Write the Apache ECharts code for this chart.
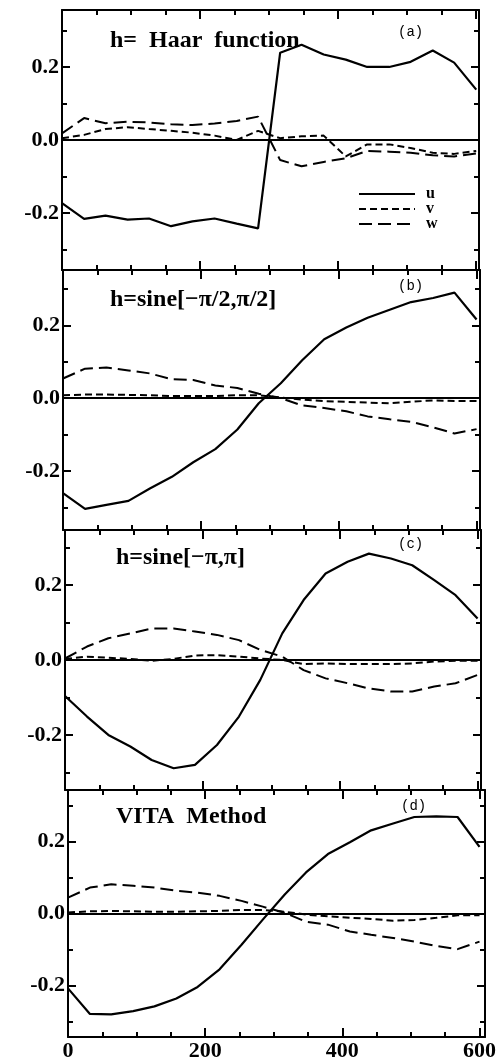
<!DOCTYPE html>
<html>
<head>
<meta charset="utf-8">
<script src="https://cdn.jsdelivr.net/npm/echarts@6/dist/echarts.min.js"></script>
<style>html,body{margin:0;padding:0;background:#fff;}#c{width:501px;height:1064px;}</style>
</head>
<body>
<div id="c"></div>
<script>
// x positions (shared by all panels)
const xs = [0,32,63,95,126,158,189,221,253,284,316,347,379,411,442,474,505,537,568,600];

// Panel (a) h = Haar function
const uA = [-0.173,-0.216,-0.207,-0.218,-0.215,-0.236,-0.223,-0.215,-0.229,-0.242,0.239,0.261,0.234,0.220,0.200,0.200,0.214,0.245,0.212,0.138];
const vA = [0.005,0.014,0.030,0.035,0.030,0.025,0.020,0.012,0.000,0.025,0.005,0.010,0.012,-0.045,-0.012,-0.012,-0.022,-0.035,-0.038,-0.030];
const wA = [0.018,0.060,0.046,0.050,0.048,0.043,0.041,0.045,0.052,0.064,-0.055,-0.072,-0.060,-0.050,-0.030,-0.032,-0.035,-0.042,-0.045,-0.037];

// Panel (b) h = sine[-pi/2, pi/2]
const uB = [-0.261,-0.304,-0.293,-0.282,-0.248,-0.216,-0.176,-0.140,-0.086,-0.014,0.041,0.104,0.162,0.194,0.221,0.243,0.264,0.275,0.290,0.216];
const vB = [0.008,0.010,0.010,0.009,0.008,0.006,0.006,0.006,0.008,0.008,0.002,-0.004,-0.008,-0.010,-0.012,-0.014,-0.010,-0.006,-0.008,-0.008];
const wB = [0.054,0.081,0.084,0.076,0.068,0.052,0.050,0.035,0.028,0.012,0.000,-0.020,-0.027,-0.036,-0.050,-0.058,-0.065,-0.080,-0.097,-0.085];

// Panel (c) h = sine[-pi, pi]
const uC = [-0.096,-0.151,-0.200,-0.231,-0.267,-0.289,-0.280,-0.227,-0.151,-0.053,0.071,0.160,0.231,0.262,0.284,0.271,0.253,0.213,0.173,0.111];
const vC = [0.003,0.009,0.006,0.003,-0.002,0.003,0.012,0.013,0.009,0.004,0.000,-0.011,-0.009,-0.011,-0.011,-0.011,-0.009,-0.004,-0.002,-0.002];
const wC = [0.004,0.036,0.058,0.071,0.084,0.084,0.076,0.067,0.053,0.027,0.009,-0.027,-0.049,-0.062,-0.076,-0.084,-0.084,-0.071,-0.062,-0.040];

// Panel (d) VITA Method
const uD = [-0.208,-0.279,-0.280,-0.271,-0.258,-0.236,-0.204,-0.155,-0.087,-0.017,0.053,0.114,0.165,0.198,0.231,0.250,0.268,0.270,0.268,0.185];
const vD = [0.003,0.006,0.007,0.006,0.005,0.005,0.006,0.007,0.010,0.010,0.005,-0.003,-0.008,-0.012,-0.015,-0.020,-0.018,-0.012,-0.005,-0.005];
const wD = [0.044,0.072,0.081,0.077,0.072,0.063,0.058,0.049,0.035,0.019,0.002,-0.023,-0.031,-0.050,-0.059,-0.068,-0.078,-0.090,-0.099,-0.078];

const titles = ['h=  Haar  function', 'h=sine[\u2212\u03c0/2,\u03c0/2]', 'h=sine[\u2212\u03c0,\u03c0]', 'VITA  Method'];
const tags = ['(a)', '(b)', '(c)', '(d)'];
const seriesNames = ['u', 'v', 'w'];

const xMajor = [0, 200, 400, 600];
const xMinor = [50, 100, 150, 250, 300, 350, 450, 500, 550];
const yMajor = [-0.2, 0, 0.2];
const yMinor = [-0.3, -0.1, 0.1, 0.3];
const yLabelText = ['-0.2', '0.0', '0.2'];

const panels = [[uA, vA, wA], [uB, vB, wB], [uC, vC, wC], [uD, vD, wD]];

// layout
const grids = [
  {top: 10, height: 260, left: 62, width: 417},
  {top: 270, height: 260, left: 63, width: 417},
  {top: 530, height: 260, left: 65, width: 416},
  {top: 790, height: 247, left: 68, width: 417}
];
const xMax = [604, 605, 605, 608];
const yRange = [[-0.356, 0.356], [-0.362, 0.352], [-0.347, 0.347], [-0.343, 0.343]];
const titlePos = [[110, 29], [110, 288], [116, 546], [116, 805]];
const tagPos = [[398, 25], [398, 279], [398, 537], [401, 799]];

const SERIF = "'Liberation Serif','DejaVu Serif',serif";

const xAxes = [], yAxes = [], series = [], titleArr = [];

grids.forEach((g, gi) => {
  const xBase = xAxes.length;
  const yBase = yAxes.length;
  const common = {type: 'value', gridIndex: gi, min: 0, max: xMax[gi], splitLine: {show: false}};
  [['bottom', true], ['top', false]].forEach(([pos, lab]) => {
    xAxes.push(Object.assign({}, common, {
      position: pos,
      axisLine: {show: true, onZero: false, lineStyle: {color: '#000', width: 2}},
      axisTick: {show: true, inside: true, length: 9, customValues: xMajor, lineStyle: {color: '#000', width: 2}},
      axisLabel: {show: lab && gi === 3, customValues: xMajor, color: '#000', fontFamily: SERIF, fontWeight: 'bold', fontSize: 22, margin: 3}
    }));
    xAxes.push(Object.assign({}, common, {
      position: pos,
      axisLine: {show: false, onZero: false},
      axisTick: {show: true, inside: true, length: 5, customValues: xMinor, lineStyle: {color: '#000', width: 2}},
      axisLabel: {show: false}
    }));
  });
  const yc = {type: 'value', gridIndex: gi, min: yRange[gi][0], max: yRange[gi][1], splitLine: {show: false}};
  [['left', true], ['right', false]].forEach(([pos, lab]) => {
    yAxes.push(Object.assign({}, yc, {
      position: pos,
      axisLine: {show: true, onZero: false, lineStyle: {color: '#000', width: 2}},
      axisTick: {show: true, inside: true, length: 8, customValues: yMajor, lineStyle: {color: '#000', width: 2}},
      axisLabel: {show: lab, customValues: yMajor, color: '#000', fontFamily: SERIF, fontWeight: 'bold', fontSize: 22, margin: 3,
        formatter: v => yLabelText[yMajor.findIndex(m => Math.abs(m - v) < 1e-6)]}
    }));
    yAxes.push(Object.assign({}, yc, {
      position: pos,
      axisLine: {show: false, onZero: false},
      axisTick: {show: true, inside: true, length: 5, customValues: yMinor, lineStyle: {color: '#000', width: 2}},
      axisLabel: {show: false}
    }));
  });

  const styles = [
    {type: 'solid', width: 2.2},
    {type: [7, 4], width: 2},
    {type: [13, 6], width: 2}
  ];
  panels[gi].forEach((vals, si) => {
    const s = {
      name: seriesNames[si],
      type: 'line',
      xAxisIndex: xBase,
      yAxisIndex: yBase,
      data: xs.map((x, i) => [x, vals[i]]),
      symbol: 'none',
      lineStyle: Object.assign({color: '#000'}, styles[si]),
      itemStyle: {color: '#000'},
      z: 3
    };
    if (si === 0) {
      s.markLine = {
        silent: true, symbol: 'none', label: {show: false},
        lineStyle: {color: '#000', type: 'solid', width: 2},
        data: [{yAxis: 0}]
      };
    }
    series.push(s);
  });

  titleArr.push({
    text: titles[gi], left: titlePos[gi][0], top: titlePos[gi][1], padding: 0,
    textStyle: {fontFamily: SERIF, fontWeight: 'bold', fontSize: 24, color: '#000'}
  });
  titleArr.push({
    text: tags[gi], left: tagPos[gi][0], top: tagPos[gi][1], padding: 0,
    textStyle: {fontFamily: "'Liberation Mono','DejaVu Sans Mono',monospace", fontWeight: 'normal', fontSize: 14, color: '#000'}
  });
});

const chart = echarts.init(document.getElementById('c'), null, {renderer: 'canvas'});
chart.setOption({
  animation: false,
  backgroundColor: '#fff',
  title: titleArr,
  grid: grids,
  xAxis: xAxes,
  yAxis: yAxes,
  legend: {
    data: seriesNames,
    orient: 'vertical',
    left: 358, top: 186,
    itemWidth: 56, itemHeight: 10, itemGap: -1,
    padding: 0,
    itemStyle: {opacity: 0},
    textStyle: {fontFamily: SERIF, fontWeight: 'bold', fontSize: 16, color: '#000', padding: [0, 0, 0, 6]}
  },
  series: series
});
</script>
</body>
</html>
